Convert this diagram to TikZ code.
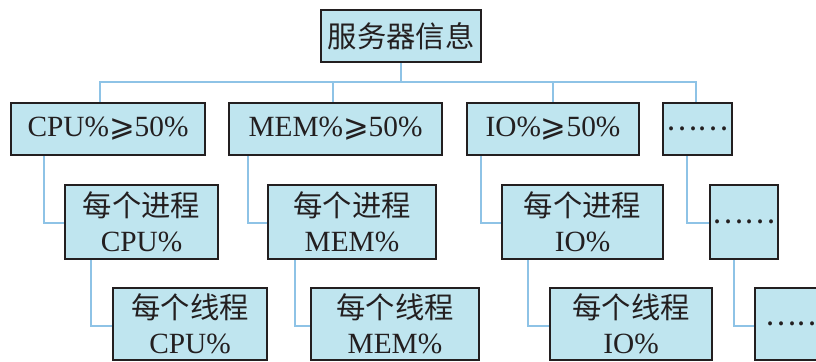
\documentclass[tikz,border=0pt]{standalone}
\usepackage{fontspec}
\setmainfont{Liberation Serif}
\newfontfamily\cjk{Noto Sans CJK SC}
\newfontfamily\symf{DejaVu Sans}
\usetikzlibrary{backgrounds}
\definecolor{boxfill}{HTML}{BFE5EF}
\definecolor{linkblue}{HTML}{8EC3E6}
\definecolor{ink}{HTML}{231F20}
\newcommand{\mygeq}{{\symf\fontsize{23}{26}\selectfont ⩾}}
\tikzset{
  box/.style={draw=ink, line width=1.8pt, fill=boxfill, text=ink, inner sep=0pt,
    align=center, font=\fontsize{22}{26}\selectfont},
  link/.style={draw=linkblue, line width=1.7pt}
}
\begin{document}
\begin{tikzpicture}[x=0.75pt,y=-0.75pt]
\useasboundingbox (0,0) rectangle (816,361);
\clip (0,0) rectangle (816,361);
% top
\node[box, minimum width=120pt, minimum height=39pt] (top) at (401,36) {\cjk 服务器信息};
% level 1
\node[box, minimum width=145.5pt, minimum height=39pt] (A) at (108,129) {CPU\%\mygeq50\%};
\node[box, minimum width=159.75pt, minimum height=39pt] (B) at (335.5,129) {MEM\%\mygeq50\%};
\node[box, minimum width=129pt, minimum height=39pt] (C) at (553,129) {IO\%\mygeq50\%};
\node[box, minimum width=51.75pt, minimum height=39pt] (D) at (697.5,129) {\cjk ……};
% level 2
\node[box, minimum width=114.75pt, minimum height=55.5pt] (A2) at (141.5,222) {{\cjk 每个进程}\\CPU\%};
\node[box, minimum width=126pt, minimum height=55.5pt] (B2) at (352,222) {{\cjk 每个进程}\\MEM\%};
\node[box, minimum width=120.75pt, minimum height=55.5pt] (C2) at (582.5,222) {{\cjk 每个进程}\\IO\%};
\node[box, minimum width=51pt, minimum height=55.5pt] (D2) at (744,222) {\cjk ……};
% level 3
\node[box, minimum width=115.5pt, minimum height=54pt] (A3) at (190,324) {{\cjk 每个线程}\\CPU\%};
\node[box, minimum width=126pt, minimum height=54pt] (B3) at (395,324) {{\cjk 每个线程}\\MEM\%};
\node[box, minimum width=121.5pt, minimum height=54pt] (C3) at (631,324) {{\cjk 每个线程}\\IO\%};
\node[box, minimum height=54pt, text width=48.75pt, inner xsep=7.5pt, align=left] (D3) at (797.5,324) {\cjk ……};
% connectors
\begin{scope}[on background layer]
\coordinate (bus) at (401,82);
\draw[link] (top.south) -- (bus);
\draw[link] ([xshift=-6pt]A.north) |- ([xshift=-1.1pt]D.north |- bus) -- ([xshift=-1.1pt]D.north);
\draw[link] ([xshift=-1.9pt]B.north) -- ([xshift=-1.9pt]B.north |- bus);
\draw[link] (C.north) -- (C.north |- bus);
\draw[link] ([xshift=25.5pt]A.south west) |- ([yshift=-0.75pt]A2.west);
\draw[link] ([xshift=15pt]B.south west) |- ([yshift=-0.75pt]B2.west);
\draw[link] ([xshift=11.25pt]C.south west) |- ([yshift=-0.75pt]C2.west);
\draw[link] ([xshift=18.75pt]D.south west) |- ([yshift=-0.75pt]D2.west);
\draw[link] ([xshift=20.25pt]A2.south west) |- ([yshift=-1.5pt]A3.west);
\draw[link] ([xshift=21pt]B2.south west) |- ([yshift=-1.5pt]B3.west);
\draw[link] ([xshift=20.25pt]C2.south west) |- ([yshift=-1.5pt]C3.west);
\draw[link] ([xshift=18.75pt]D2.south west) |- ([yshift=-1.5pt]D3.west);
\end{scope}
\end{tikzpicture}
\end{document}
